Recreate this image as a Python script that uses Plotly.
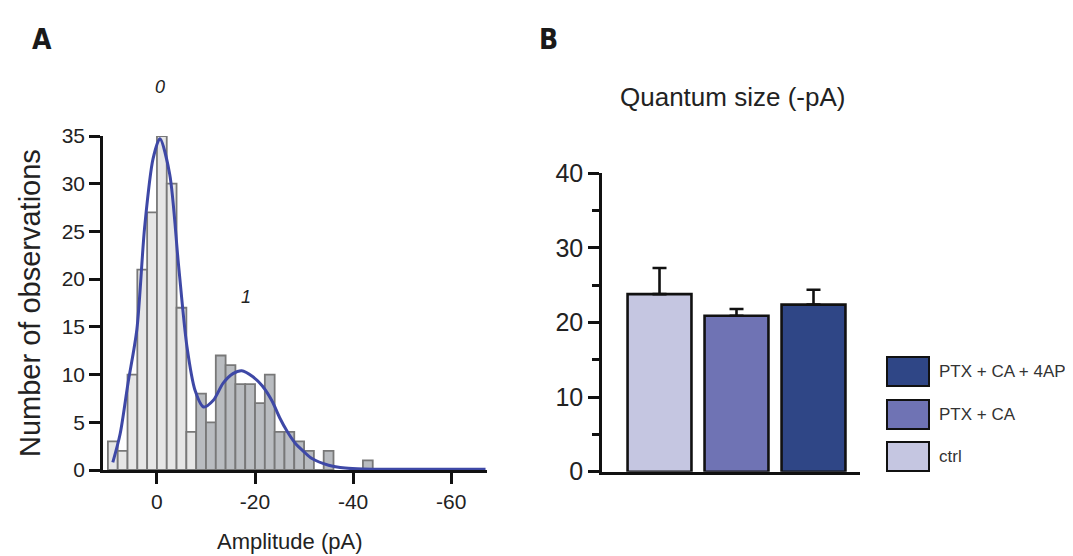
import plotly.graph_objects as go

W, H = 1073, 556
OFF = 8  # the page body has an 8px margin; reference pixel coordinates are shifted by it

# ---------------- Panel A data: amplitude histogram ----------------
bin_centers_light = [9, 7, 5, 3, 1, -1, -3, -5, -7]
counts_light = [3, 2, 10, 21, 27, 35, 30, 17, 4]
bin_centers_dark = [-9, -11, -13, -15, -17, -19, -21, -23, -25, -27, -29, -31, -33, -35, -43]
counts_dark = [8, 5, 12, 11, 9, 9, 7, 10, 4, 4, 3, 2, 0, 2, 1]

# fitted curve
fit_amp = [9.0, 7.5, 5.9, 4.1, 2.5, 0.8, -0.6, -2.6, -4.4, -6.1, -7.8, -9.5, -11.5,
           -13.5, -15.5, -17.3, -19.5, -21.5, -23.5, -25.0, -26.6, -28.2, -30.0,
           -31.6, -35.0, -38.4, -42.0, -50.0, -67.0]
fit_count = [0.8, 3.8, 9.1, 14.7, 25.5, 32.6, 34.7, 31.0, 21.5, 13.0, 8.3, 6.6, 7.3,
             9.1, 10.1, 10.4, 9.8, 8.8, 7.2, 5.5, 4.0, 2.8, 1.9,
             1.2, 0.5, 0.2, 0.1, 0.08, 0.08]

x_ticks_a = [0, -20, -40, -60]
x_ticktext_a = ["0", "-20", "-40", "-60"]
y_ticks_a = [0, 5, 10, 15, 20, 25, 30, 35]

# ---------------- Panel B data: quantum size ----------------
conditions = ["ctrl", "PTX + CA", "PTX + CA + 4AP"]
quantum_size = [23.8, 20.9, 22.4]
quantum_err = [3.5, 0.9, 2.0]
bar_colors = ["#c5c6e1", "#6f73b4", "#2f4686"]
y_ticks_b = [0, 10, 20, 30, 40]

FONT = "Liberation Sans, Arial, sans-serif"
TXT = "#222222"


def px(x):
    return (x - OFF) / W


def py(y):
    return 1 - (y - OFF) / H


fig = go.Figure()

# histogram bars
fig.add_trace(go.Bar(
    x=bin_centers_light, y=counts_light, width=2.0,
    marker=dict(color="#e6e6e6", line=dict(color="#787878", width=1.8)),
    xaxis="x", yaxis="y", showlegend=False))
fig.add_trace(go.Bar(
    x=bin_centers_dark, y=counts_dark, width=2.0,
    marker=dict(color="#b9bcc0", line=dict(color="#787878", width=1.8)),
    xaxis="x", yaxis="y", showlegend=False))
fig.add_trace(go.Scatter(
    x=fit_amp, y=fit_count, mode="lines",
    line=dict(color="#3e48a6", width=3, shape="spline", smoothing=0.8),
    xaxis="x", yaxis="y", showlegend=False, cliponaxis=True))

# quantum size bars
fig.add_trace(go.Bar(
    x=[0, 1, 2], y=quantum_size, width=0.83,
    marker=dict(color=bar_colors, line=dict(color="#111111", width=2.6)),
    error_y=dict(type="data", array=quantum_err, arrayminus=[0, 0, 0], symmetric=False,
                 color="#111111", thickness=2.6, width=7),
    xaxis="x2", yaxis="y2", showlegend=False))

axis_common = dict(showgrid=False, zeroline=False, showline=True, linecolor="#111111",
                   linewidth=2.6, ticks="outside", tickcolor="#111111", tickwidth=2.6,
                   automargin=False)

fig.update_layout(
    width=W, height=H,
    margin=dict(l=0, r=0, t=0, b=0),
    paper_bgcolor="white", plot_bgcolor="white",
    barmode="overlay",
    font=dict(family=FONT, color=TXT),
    xaxis=dict(domain=[px(103), px(487)], range=[11.0, -67.3], anchor="y",
               tickvals=x_ticks_a, ticktext=x_ticktext_a, ticklen=11,
               tickfont=dict(size=21, family=FONT, color=TXT), **axis_common),
    yaxis=dict(domain=[py(470), py(136)], range=[0, 35], anchor="x",
               tickvals=y_ticks_a, ticklen=11,
               tickfont=dict(size=21, family=FONT, color=TXT), **axis_common),
    xaxis2=dict(domain=[px(602), px(860)], range=[-0.747, 2.604], anchor="y2",
                showticklabels=False, showgrid=False, zeroline=False, showline=True,
                linecolor="#111111", linewidth=2.6, ticks="", automargin=False),
    yaxis2=dict(domain=[py(471.7), py(173.3)], range=[0, 40], anchor="x2",
                tickvals=y_ticks_b, ticklen=11,
                tickfont=dict(size=25, family=FONT, color=TXT),
                minor=dict(dtick=5, tick0=0, ticks="outside", ticklen=7,
                           tickwidth=2.6, tickcolor="#111111"),
                **axis_common),
)

ann = []
LETTER_FONT = "Liberation Sans Narrow, DejaVu Sans Condensed, sans-serif"
# panel letters
ann.append(dict(x=px(42), y=py(40), text="<b>A</b>", showarrow=False,
                font=dict(size=28, family=LETTER_FONT, color="#1a1a1a"),
                xanchor="center", yanchor="middle", xref="paper", yref="paper"))
ann.append(dict(x=px(548), y=py(40), text="<b>B</b>", showarrow=False,
                font=dict(size=28, family=LETTER_FONT, color="#1a1a1a"),
                xanchor="center", yanchor="middle", xref="paper", yref="paper"))
# axis titles A
ann.append(dict(x=px(30), y=py(303), text="Number of observations", showarrow=False,
                textangle=-90, font=dict(size=29, family=FONT, color=TXT),
                xanchor="center", yanchor="middle", xref="paper", yref="paper"))
ann.append(dict(x=px(290), y=py(541), text="Amplitude (pA)", showarrow=False,
                font=dict(size=22, family=FONT, color=TXT),
                xanchor="center", yanchor="middle", xref="paper", yref="paper"))
# peak labels
ann.append(dict(x=px(160), y=py(87), text="<i>0</i>", showarrow=False,
                font=dict(size=18, family=FONT, color=TXT),
                xanchor="center", yanchor="middle", xref="paper", yref="paper"))
ann.append(dict(x=px(246), y=py(297), text="<i>1</i>", showarrow=False,
                font=dict(size=18, family=FONT, color=TXT),
                xanchor="center", yanchor="middle", xref="paper", yref="paper"))
# panel B title
ann.append(dict(x=px(732), y=py(97), text="Quantum size (-pA)", showarrow=False,
                font=dict(size=26, family=FONT, color=TXT),
                xanchor="center", yanchor="middle", xref="paper", yref="paper"))

# manual legend (top to bottom: reversed order of conditions)
shapes = []
legend_tops = [357, 400, 442]
for i, top in enumerate(legend_tops):
    idx = len(conditions) - 1 - i
    shapes.append(dict(type="rect", xref="paper", yref="paper",
                       x0=px(887), x1=px(929), y0=py(top + 29), y1=py(top),
                       fillcolor=bar_colors[idx], line=dict(color="#111111", width=2)))
    ann.append(dict(x=px(937), y=py(top + 14.5), text=conditions[idx], showarrow=False,
                    font=dict(size=17, family=FONT, color="#333333"),
                    xanchor="left", yanchor="middle", xref="paper", yref="paper"))

fig.update_layout(annotations=ann, shapes=shapes)

fig.write_html("out.html")
